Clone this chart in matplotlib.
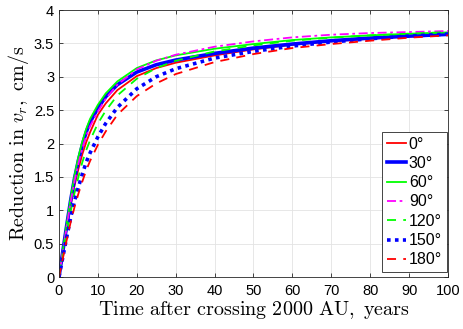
import matplotlib.pyplot as plt

plt.rcParams["font.family"] = ["Liberation Sans", "DejaVu Sans"]
plt.rcParams["mathtext.fontset"] = "cm"

# time after crossing 2000 AU, years
t = [0, 1, 2, 3, 4, 5, 6, 7, 8, 10, 12, 15, 20, 25, 30, 40, 50, 60, 70, 80, 90, 100]

# reduction in v_r (cm/s) for each angle
v_0 = [0, 0.37, 0.73, 1.07, 1.37, 1.62, 1.84, 2.02, 2.17, 2.43, 2.60, 2.80, 3.01, 3.13,
       3.21, 3.32, 3.41, 3.48, 3.53, 3.57, 3.60, 3.63]
v_30 = [0, 0.39, 0.78, 1.15, 1.48, 1.75, 1.98, 2.17, 2.32, 2.53, 2.70, 2.88, 3.07, 3.18,
        3.25, 3.35, 3.43, 3.49, 3.54, 3.58, 3.61, 3.635]
v_60 = [0, 0.40, 0.80, 1.18, 1.52, 1.80, 2.03, 2.22, 2.37, 2.58, 2.75, 2.93, 3.13, 3.245,
        3.32, 3.42, 3.49, 3.55, 3.59, 3.62, 3.645, 3.665]
v_90 = [0, 0.38, 0.76, 1.12, 1.44, 1.70, 1.93, 2.11, 2.26, 2.48, 2.67, 2.88, 3.11, 3.24,
        3.33, 3.45, 3.53, 3.59, 3.63, 3.655, 3.67, 3.685]
v_120 = [0, 0.33, 0.66, 0.98, 1.26, 1.50, 1.72, 1.90, 2.05, 2.30, 2.49, 2.72, 2.97, 3.13,
         3.24, 3.38, 3.47, 3.54, 3.585, 3.62, 3.645, 3.67]
v_150 = [0, 0.30, 0.60, 0.89, 1.14, 1.35, 1.54, 1.72, 1.86, 2.10, 2.30, 2.54, 2.82, 3.00,
         3.12, 3.28, 3.38, 3.46, 3.52, 3.57, 3.61, 3.64]
v_180 = [0, 0.28, 0.56, 0.82, 1.05, 1.25, 1.43, 1.60, 1.74, 1.98, 2.18, 2.43, 2.71, 2.90,
         3.04, 3.22, 3.34, 3.43, 3.49, 3.54, 3.585, 3.62]

labels = ["0°", "30°", "60°", "90°", "120°", "150°", "180°"]


def plot_reduction():
    fig = plt.figure(figsize=(4.63, 3.29), dpi=100)
    ax = fig.add_axes([0.1274, 0.158, 0.8402, 0.8116])

    ax.plot(t, v_0, color="#ff0000", lw=1.3, ls="-", label=labels[0])
    ax.plot(t, v_30, color="#0000ff", lw=2.6, ls="-", label=labels[1])
    ax.plot(t, v_60, color="#00ff00", lw=1.3, ls="-", label=labels[2])
    ax.plot(t, v_90, color="#ff00ff", lw=1.3, ls=(0, (5, 2, 1.5, 2)), label=labels[3])
    ax.plot(t, v_120, color="#00ff00", lw=1.3, ls=(0, (5, 4)), label=labels[4])
    ax.plot(t, v_150, color="#0000ff", lw=2.6, ls=(0, (1, 1.2)), label=labels[5])
    ax.plot(t, v_180, color="#ff0000", lw=1.3, ls=(0, (5, 4)), label=labels[6])

    ax.set_xlim(0, 100)
    ax.set_ylim(0, 4)
    ax.set_xticks(range(0, 101, 10))
    ax.set_yticks([0, 0.5, 1, 1.5, 2, 2.5, 3, 3.5, 4])
    ax.set_yticklabels(["0", "0.5", "1", "1.5", "2", "2.5", "3", "3.5", "4"])
    ax.grid(True, color="#e3e3e3", lw=0.6)
    ax.set_axisbelow(True)
    for s in ax.spines.values():
        s.set_color("#262626")
        s.set_linewidth(0.6)
    ax.tick_params(direction="in", length=3, width=0.6, colors="#262626",
                   labelsize=10.5, top=True, right=True, labelcolor="black")
    ax.tick_params(axis="x", pad=5)

    ax.set_xlabel(r"$\mathrm{Time\ after\ crossing\ 2000\ AU,\ years}$", fontsize=14.5, labelpad=1)
    ax.set_ylabel(r"$\mathrm{Reduction\ in\ }v_r\mathrm{,\ cm/s}$", fontsize=14.5, labelpad=2)

    leg = ax.legend(loc="lower right", bbox_to_anchor=(0.997, 0.018), fontsize=11.5,
                    handlelength=1.2, handletextpad=0.15, labelspacing=0.27,
                    borderpad=0.3, borderaxespad=0, fancybox=False, framealpha=1)
    leg.get_frame().set_edgecolor("#262626")
    leg.get_frame().set_linewidth(0.6)

    plt.savefig("out.png", dpi=100)


if __name__ == "__main__":
    plot_reduction()
